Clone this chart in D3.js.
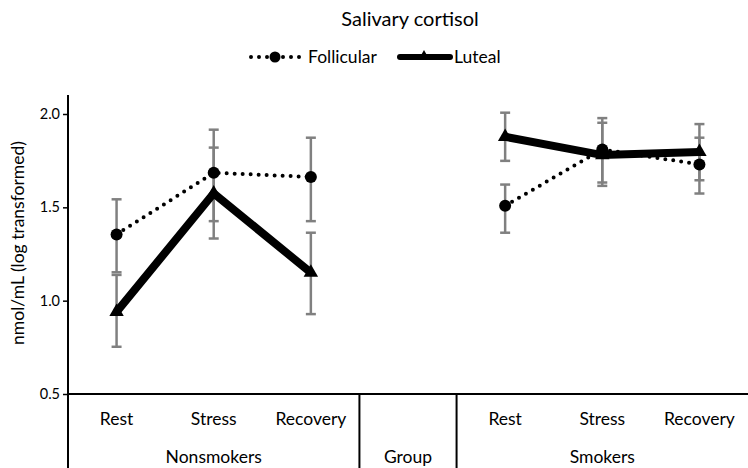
<!DOCTYPE html>
<html><head><meta charset="utf-8">
<script src="https://cdn.jsdelivr.net/npm/d3@7"></script>
<style>body{margin:0;background:#fff}svg{display:block}text{font-family:Lato,"Open Sans",sans-serif;fill:#000}</style>
</head><body>
<script>
const phases = ["Rest", "Stress", "Recovery"];
const groups = ["Nonsmokers", "Smokers"];
const middleLabel = "Group";
const seriesNames = ["Follicular", "Luteal"];
const yTicks = [0.5, 1.0, 1.5, 2.0];

// Nonsmokers then Smokers, each Rest/Stress/Recovery
const follicularMean = [[1.355, 1.685, 1.663], [1.509, 1.81, 1.73]];
const follicularLow  = [[1.152, 1.426, 1.426], [1.364, 1.633, 1.574]];
const follicularHigh = [[1.543, 1.916, 1.873], [1.622, 1.978, 1.946]];
const lutealMean = [[0.94, 1.575, 1.15], [1.878, 1.78, 1.797]];
const lutealLow  = [[0.753, 1.333, 0.928], [1.749, 1.615, 1.645]];
const lutealHigh = [[1.138, 1.82, 1.364], [2.007, 1.953, 1.873]];

const W = 748, H = 468;
const svg = d3.select("body").append("svg").attr("width", W).attr("height", H);

const slots = ["N-Rest","N-Stress","N-Recovery","Group","S-Rest","S-Stress","S-Recovery"];
const x = d3.scaleBand().domain(slots).range([68, 748]).padding(0);
const y = d3.scaleLinear().domain([0.5, 2.0]).range([394, 114]);
const yTop = y.invert(95);

const slotKey = (g, i) => (g === 0 ? "N-" : "S-") + phases[i];
const cx = (g, i) => x(slotKey(g, i)) + x.bandwidth() / 2;

// Title
svg.append("text").attr("x", 410).attr("y", 26).attr("text-anchor", "middle")
  .style("font-size", "20px").text("Salivary cortisol");

// Y axis
const yAxis = d3.axisLeft(y).tickValues(yTicks).tickFormat(d3.format(".1f")).tickSize(5).tickSizeOuter(0);
const ga = svg.append("g").attr("transform", "translate(68,0)").call(yAxis);
ga.select(".domain").remove();
ga.selectAll(".tick line").attr("stroke", "#000").attr("stroke-width", 1.5);
ga.selectAll(".tick text").style("font-size", "14.5px").style("font-family", "Lato,sans-serif").attr("fill", "#000");
svg.append("line").attr("x1", 68).attr("x2", 68).attr("y1", y(yTop)).attr("y2", H)
  .attr("stroke", "#000").attr("stroke-width", 2);
svg.append("text").attr("transform", `translate(24,${243}) rotate(-90)`).attr("text-anchor", "middle")
  .style("font-size", "17.5px").text("nmol/mL (log transformed)");

// Bottom category table
svg.append("line").attr("x1", 68).attr("x2", 748).attr("y1", y(0.5)).attr("y2", y(0.5))
  .attr("stroke", "#000").attr("stroke-width", 2);
[x("Group"), x("S-Rest")].forEach(px => {
  svg.append("line").attr("x1", px).attr("x2", px).attr("y1", y(0.5)).attr("y2", H)
    .attr("stroke", "#000").attr("stroke-width", 2);
});
groups.forEach((g, gi) => {
  phases.forEach((p, i) => {
    svg.append("text").attr("x", cx(gi, i)).attr("y", 425).attr("text-anchor", "middle")
      .style("font-size", "17.5px").text(p);
  });
  svg.append("text").attr("x", cx(gi, 1)).attr("y", 463).attr("text-anchor", "middle")
    .style("font-size", "17.5px").text(g);
});
svg.append("text").attr("x", x("Group") + x.bandwidth() / 2).attr("y", 463).attr("text-anchor", "middle")
  .style("font-size", "17.5px").text(middleLabel);

// Error bars
function errBars(low, high) {
  low.forEach((arr, gi) => arr.forEach((lo, i) => {
    const hi = high[gi][i], px = cx(gi, i);
    const g = svg.append("g").attr("stroke", "#808080").attr("stroke-width", 2.5);
    g.append("line").attr("x1", px).attr("x2", px).attr("y1", y(lo)).attr("y2", y(hi));
    [lo, hi].forEach(v => g.append("line").attr("x1", px - 5).attr("x2", px + 5).attr("y1", y(v)).attr("y2", y(v)));
  }));
}
errBars(follicularLow, follicularHigh);
errBars(lutealLow, lutealHigh);

const line = d3.line().x(d => d[0]).y(d => d[1]);
const tri = d3.symbol().type(d3.symbolTriangle).size(90);
const triSmall = d3.symbol().type(d3.symbolTriangle).size(45);

// Follicular
follicularMean.forEach((arr, gi) => {
  const pts = arr.map((v, i) => [cx(gi, i), y(v)]);
  svg.append("path").attr("d", line(pts)).attr("fill", "none").attr("stroke", "#000")
    .attr("stroke-width", 4).attr("stroke-linecap", "round").attr("stroke-dasharray", "0 8");
  pts.forEach(p => svg.append("circle").attr("cx", p[0]).attr("cy", p[1]).attr("r", 6).attr("fill", "#000"));
});
// Luteal
lutealMean.forEach((arr, gi) => {
  const pts = arr.map((v, i) => [cx(gi, i), y(v)]);
  svg.append("path").attr("d", line(pts)).attr("fill", "none").attr("stroke", "#000")
    .attr("stroke-width", 8).attr("stroke-linejoin", "miter");
  pts.forEach(p => svg.append("path").attr("d", tri()).attr("transform", `translate(${p[0]},${p[1]})`).attr("fill", "#000"));
});

// Legend
const ly = 57;
svg.append("line").attr("x1", 251).attr("x2", 300).attr("y1", ly).attr("y2", ly)
  .attr("stroke", "#000").attr("stroke-width", 4).attr("stroke-linecap", "round").attr("stroke-dasharray", "0 8");
svg.append("circle").attr("cx", 275).attr("cy", ly).attr("r", 5.5).attr("fill", "#000");
svg.append("text").attr("x", 308).attr("y", ly + 6).style("font-size", "17.5px").text(seriesNames[0]);
svg.append("line").attr("x1", 400).attr("x2", 450).attr("y1", ly).attr("y2", ly)
  .attr("stroke", "#000").attr("stroke-width", 6).attr("stroke-linecap", "round");
svg.append("path").attr("d", triSmall()).attr("transform", `translate(424,${ly - 1})`).attr("fill", "#000");
svg.append("text").attr("x", 454).attr("y", ly + 6).style("font-size", "17.5px").text(seriesNames[1]);
</script>
</body></html>
